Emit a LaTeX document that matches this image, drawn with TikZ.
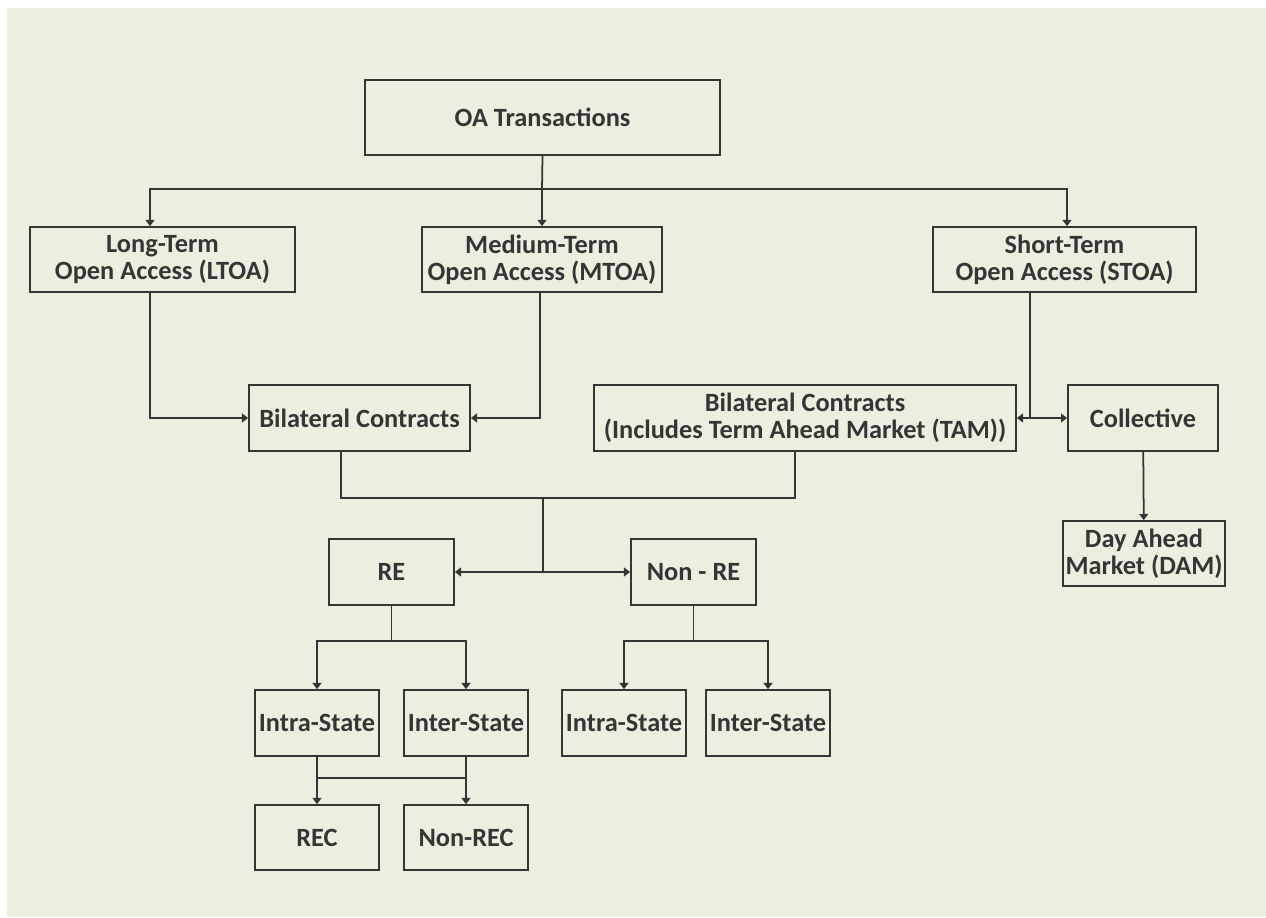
\documentclass[tikz,border=0pt]{standalone}
\usepackage{fontspec}
\setmainfont{Carlito}
\usetikzlibrary{arrows.meta}
\definecolor{paper}{HTML}{EEEEE0}
\definecolor{ink}{HTML}{353535}

\begin{document}
\begin{tikzpicture}[x=0.02cm,y=-0.02cm,
		box/.style={draw=ink,line width=1pt,fill=paper,text=ink,align=center,inner sep=0pt,
			font=\fontsize{15}{15.5}\selectfont\bfseries},
		link/.style={draw=ink,line width=1pt},
		>={Triangle[length=3.5pt,width=5pt]}]
			\useasboundingbox (0,0) rectangle (1266,917);
			\fill[paper] (7,8) rectangle (1266,917);
			% top level
			\node[box,minimum width=7.1cm,minimum height=1.5cm] (oa) at (542.5,117.5){OA Transactions};
			\node[box,minimum width=5.3cm,minimum height=1.3cm] (lt) at (162.5,259.5){Long-Term\\Open Access (LTOA)};
			\node[box,minimum width=4.8cm,minimum height=1.3cm] (mt) at (542,259.5){Medium-Term\\Open Access (MTOA)};
			\node[box,minimum width=5.26cm,minimum height=1.3cm] (st) at (1064.5,259.5){Short-Term\\Open Access (STOA)};
			% contracts
			\node[box,minimum width=4.42cm,minimum height=1.32cm] (bc) at (359.5,418){Bilateral Contracts};
			\node[box,minimum width=8.44cm,minimum height=1.32cm] (tam) at (805,418){Bilateral Contracts\\(Includes Term Ahead Market (TAM))};
			\node[box,minimum width=3cm,minimum height=1.32cm] (col) at (1143,418){Collective};
			\node[box,minimum width=3.24cm,minimum height=1.3cm] (dam) at (1144,553.5){Day Ahead\\Market (DAM)};
			% RE / Non-RE
			\node[box,minimum width=2.5cm,minimum height=1.32cm] (re) at (391.5,572){RE};
			\node[box,minimum width=2.5cm,minimum height=1.32cm] (nre) at (693.5,572){Non - RE};
			\node[box,minimum width=2.48cm,minimum height=1.32cm] (reintra) at (317,723){Intra-State};
			\node[box,minimum width=2.48cm,minimum height=1.32cm] (reinter) at (466,723){Inter-State};
			\node[box,minimum width=2.48cm,minimum height=1.32cm] (nreintra) at (624,723){Intra-State};
			\node[box,minimum width=2.48cm,minimum height=1.32cm] (nreinter) at (768,723){Inter-State};
			\node[box,minimum width=2.48cm,minimum height=1.3cm] (rec) at (317,837.5){REC};
			\node[box,minimum width=2.48cm,minimum height=1.3cm] (nrec) at (466,837.5){Non-REC};

			% connectors
			\coordinate (j1) at (542,189);
			\draw[link] (oa.south) -- (j1);
			\draw[link,->] (j1) -| ([xshift=-0.25cm]lt.north);
			\draw[link,->] (j1) -| ([xshift=0.05cm]st.north);
			\draw[link,->] (j1) -- (mt.north);
			\draw[link,->] ([xshift=-0.25cm]lt.south) |- (bc.west);
			\draw[link,->] ([xshift=-0.04cm]mt.south) |- (bc.east);
			\coordinate (j2) at ([xshift=-0.69cm]st.south |- col.west);
			\draw[link] ([xshift=-0.69cm]st.south) -- (j2);
			\draw[link,->] (j2) -- (tam.east);
			\draw[link,->] (j2) -- (col.west);
			\draw[link,->] (col) -- (dam);
			\coordinate (j3) at (543,498);
			\draw[link] ([xshift=-0.37cm]bc.south) |- (j3) -| ([xshift=-0.2cm]tam.south);
			\draw[link] (j3) -- (j3 |- re.east) coordinate (j4);
			\draw[link,->] (j4) -- (re.east);
			\draw[link,->] (j4) -- (nre.west);
			\draw[link] (re.south) -- ++(0,35) coordinate (j5);
			\draw[link,->] (j5) -| (reintra.north);
			\draw[link,->] (j5) -| (reinter.north);
			\draw[link] (nre.south) -- ++(0,35) coordinate (j6);
			\draw[link,->] (j6) -| (nreintra.north);
			\draw[link,->] (j6) -| (nreinter.north);
			\draw[link,->] (reintra) -- (rec);
			\draw[link,->] (reinter) -- (nrec);
			\path (reintra.south) -- (rec.north) coordinate[pos=0.45] (m1);
			\path (reinter.south) -- (nrec.north) coordinate[pos=0.45] (m2);
			\draw[link] (m1) -- (m2);
		\end{tikzpicture}
\end{document}
